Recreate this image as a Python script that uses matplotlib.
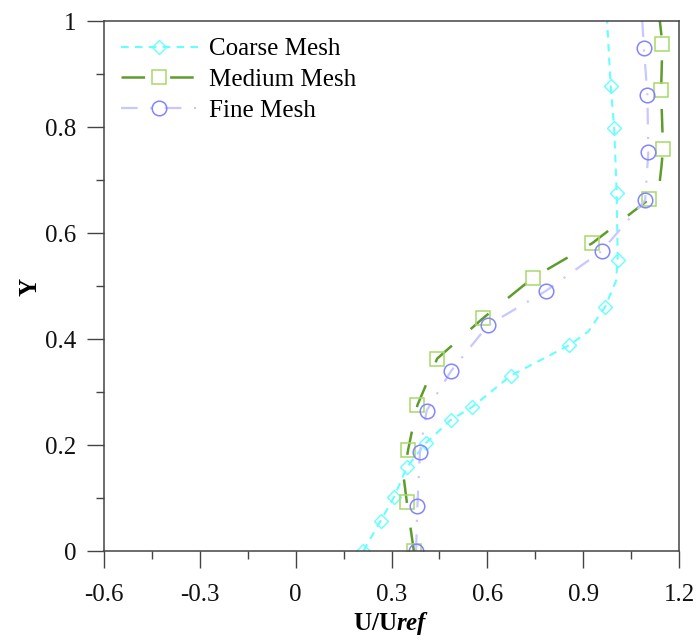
import matplotlib
matplotlib.use("Agg")
import matplotlib.pyplot as plt
from matplotlib.ticker import FixedLocator, MultipleLocator

plt.rcParams['font.family'] = ['Liberation Serif', 'DejaVu Serif']
plt.rcParams['mathtext.fontset'] = 'custom'
plt.rcParams['mathtext.rm'] = 'Liberation Serif'
plt.rcParams['mathtext.bf'] = 'Liberation Serif:bold'
plt.rcParams['mathtext.it'] = 'Liberation Serif:italic'
plt.rcParams['mathtext.bfit'] = 'Liberation Serif:bold:italic'
plt.rcParams['axes.unicode_minus'] = False
plt.rcParams['lines.scale_dashes'] = False

# ---- data ----
# line paths; marker indices listed separately
coarse_u = [0.212, 0.266, 0.308, 0.348, 0.408, 0.485, 0.553, 0.674, 0.855, 0.916, 0.969, 1.003, 1.008, 1.005, 0.997, 0.986, 0.975]
coarse_y = [0.000, 0.057, 0.102, 0.158, 0.204, 0.247, 0.272, 0.331, 0.388, 0.414, 0.461, 0.510, 0.550, 0.675, 0.799, 0.878, 1.000]
coarse_marks = [0, 1, 2, 3, 4, 5, 6, 7, 8, 10, 12, 13, 14, 15]

medium_u = [0.370, 0.348, 0.338, 0.352, 0.381, 0.443, 0.586, 0.744, 0.929, 1.107, 1.138, 1.145, 1.150, 1.144, 1.148, 1.140]
medium_y = [0.000, 0.092, 0.140, 0.191, 0.275, 0.363, 0.439, 0.516, 0.581, 0.664, 0.688, 0.725, 0.758, 0.870, 0.957, 1.000]
medium_marks = [0, 1, 3, 4, 5, 6, 7, 8, 9, 12, 13, 14]

fine_u = [0.377, 0.381, 0.389, 0.410, 0.487, 0.602, 0.784, 0.958, 1.094, 1.104, 1.101, 1.090, 1.085]
fine_y = [0.000, 0.084, 0.186, 0.265, 0.340, 0.426, 0.491, 0.566, 0.662, 0.753, 0.861, 0.949, 1.000]
fine_marks = [0, 1, 2, 3, 4, 5, 6, 7, 8, 9, 10, 11]

series_labels = ["Coarse Mesh", "Medium Mesh", "Fine Mesh"]

x_ticks = [-0.6, -0.3, 0, 0.3, 0.6, 0.9, 1.2]
x_tick_labels = ["-0.6", "-0.3", "0", "0.3", "0.6", "0.9", "1.2"]
y_ticks = [0, 0.2, 0.4, 0.6, 0.8, 1.0]
y_tick_labels = ["0", "0.2", "0.4", "0.6", "0.8", "1"]

# ---- figure ----
fig = plt.figure(figsize=(6.96, 6.4), dpi=100)
ax = fig.add_axes([104/696, 1-551/640, 575/696, 530/640])

ax.plot(coarse_u, coarse_y, color='#66ffff', lw=1.5, dashes=(5.5, 4.5),
        marker='D', ms=7, mfc='none', mec='#66ffff', mew=1.0,
        markevery=coarse_marks, label=series_labels[0])
ax.plot(medium_u, medium_y, color='#5e9c2e', lw=1.8, dashes=(17, 18),
        marker='s', ms=10.5, mfc='none', mec='#a8d86a', mew=1.1,
        markevery=medium_marks, label=series_labels[1])
ax.plot(fine_u, fine_y, color='#c8c8ff', lw=1.6, dashes=(12, 9, 1.5, 9),
        marker='o', ms=10.5, mfc='none', mec='#8484ff', mew=1.1,
        markevery=fine_marks, label=series_labels[2])

ax.set_xlim(-0.6, 1.2)
ax.set_ylim(0, 1)
ax.xaxis.set_major_locator(FixedLocator(x_ticks))
ax.set_xticklabels(x_tick_labels)
ax.xaxis.set_minor_locator(MultipleLocator(0.15))
ax.yaxis.set_major_locator(FixedLocator(y_ticks))
ax.set_yticklabels(y_tick_labels)
ax.yaxis.set_minor_locator(MultipleLocator(0.1))

ax.tick_params(axis='both', which='major', direction='out', length=12.5, width=1.0,
               color='#444444', labelsize=18, labelcolor='#111111')
ax.tick_params(axis='both', which='minor', direction='out', length=6, width=1.0, color='#444444')
ax.tick_params(axis='x', which='major', pad=11)
ax.tick_params(axis='y', which='major', pad=7.5)
ax.tick_params(top=False, right=False, which='both')
for s in ax.spines.values():
    s.set_color('#444444')
    s.set_linewidth(1.1)

ax.set_xlabel(r'$\mathbf{U/U}\mathbfit{ref}$', fontsize=18)
ax.xaxis.set_label_coords(0.5, -0.136)
ax.xaxis.label.set_va('center')
ax.set_ylabel('Y', fontsize=18, fontweight='bold')
ax.yaxis.set_label_coords(-0.128, 0.498)
ax.yaxis.label.set_va('center')

ax.legend(loc='upper left', bbox_to_anchor=(0.029, 0.968), frameon=False,
          fontsize=18, borderpad=0, borderaxespad=0, handlelength=3.1,
          handletextpad=0.45, labelspacing=0.33)

fig.savefig('out.png', dpi=100)
